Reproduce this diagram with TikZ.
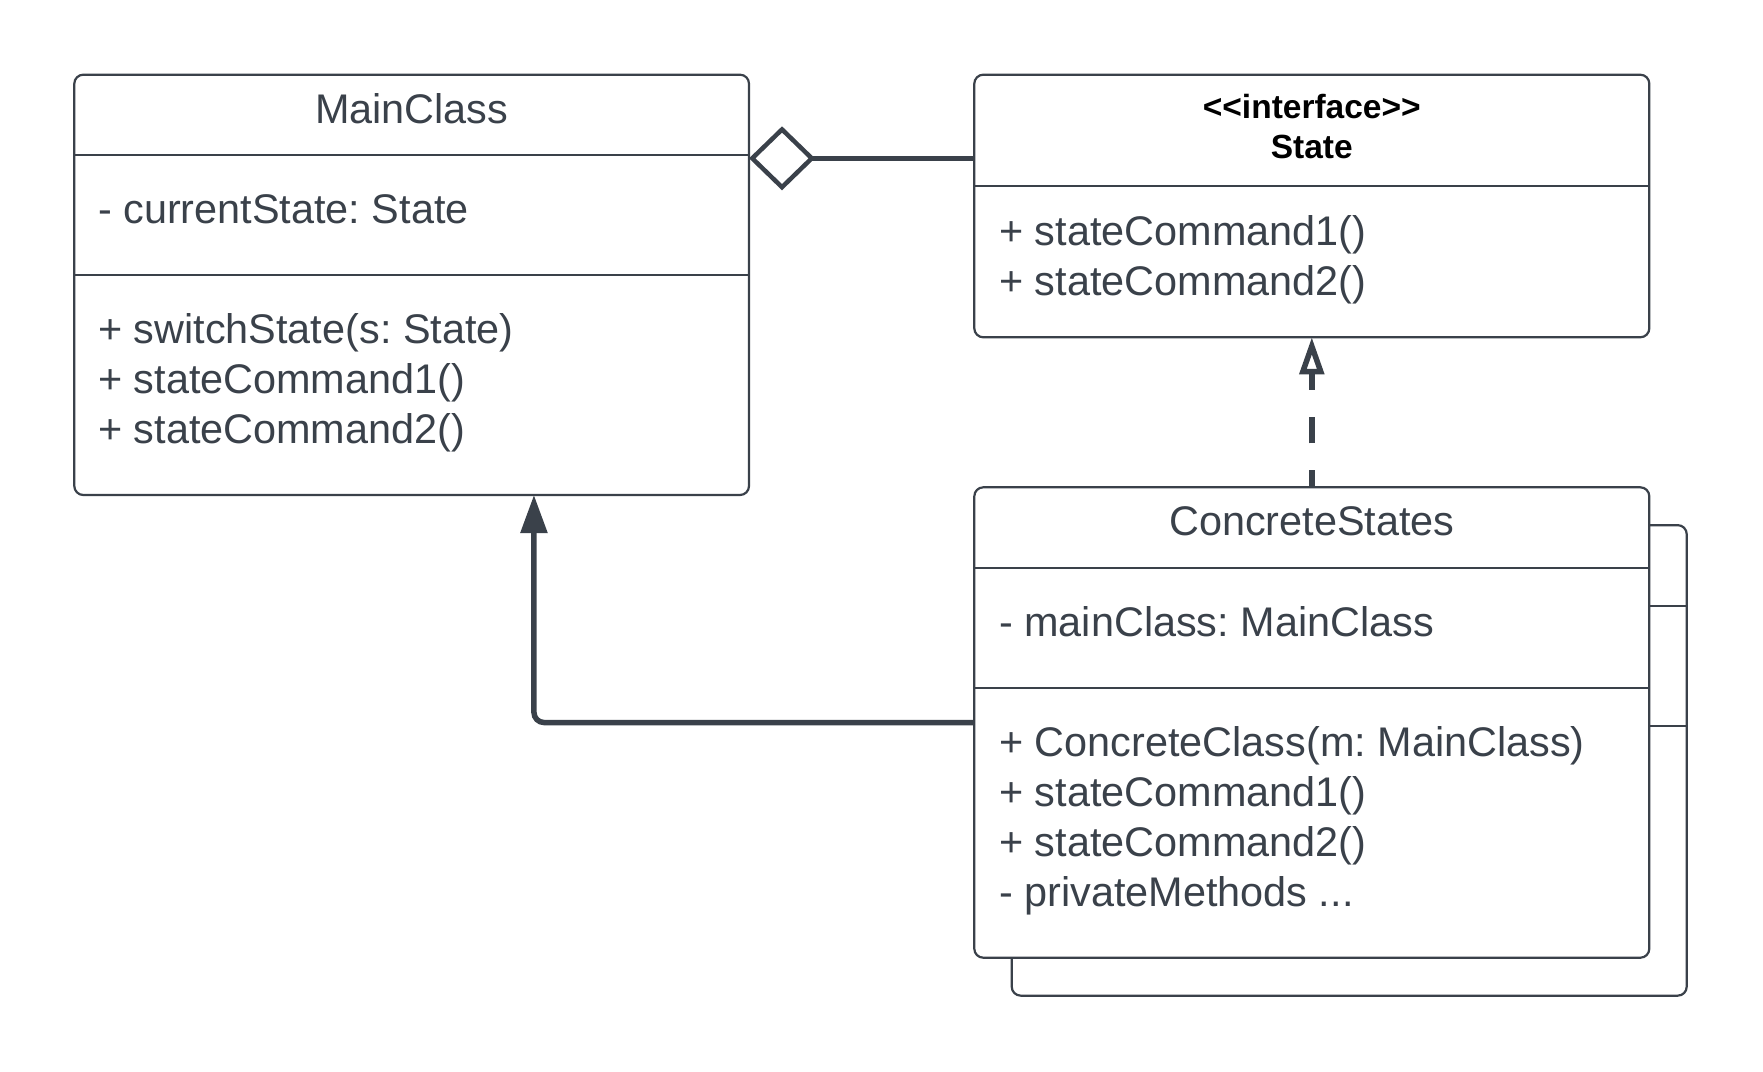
\documentclass[tikz,border=0pt]{standalone}
\usepackage{fontspec}
\setmainfont{Liberation Sans}
\usetikzlibrary{arrows.meta}
\definecolor{lucidgray}{HTML}{3A414A}
\frenchspacing

\begin{document}
\begin{tikzpicture}[x=1pt, y=-1pt,
    classbox/.style={draw=lucidgray, line width=2.2pt, rounded corners=9pt, fill=white, inner sep=0pt, outer sep=0pt},
    divider/.style={draw=lucidgray, line width=2.2pt},
    member/.style={inner sep=0pt, text=lucidgray, font=\fontsize{41.4pt}{50pt}\selectfont},
    stereo/.style={inner sep=0pt, text=black, font=\fontsize{33.5pt}{40pt}\selectfont\bfseries},
    link/.style={draw=lucidgray, line width=5.5pt}]

    \useasboundingbox (0,0) rectangle (1763,1071);

    % Draw the main class
    \node[classbox, minimum width=674.7pt, minimum height=420.3pt] (main) at (411.65, 284.85) {};
    \draw[divider] ([yshift=-80.3pt]main.north west) -- ([yshift=-80.3pt]main.north east);
    \draw[divider] ([yshift=-200.3pt]main.north west) -- ([yshift=-200.3pt]main.north east);
    \node[member, anchor=base] (maintitle) at (411.65, 123.3) {MainClass};
    \node[member, anchor=base west] (mainattr) at (98, 223.3) {- currentState: State};
    \node[member, anchor=base west] (mainop1) at (98, 343.3) {+ switchState(s: State)};
    \node[member, anchor=base west] (mainop2) at (98, 393.3) {+ stateCommand1()};
    \node[member, anchor=base west] (mainop3) at (98, 443.3) {+ stateCommand2()};

    % Draw the state interface
    \node[classbox, minimum width=675pt, minimum height=262.6pt] (state) at (1311.8, 206) {};
    \draw[divider] ([yshift=-111.3pt]state.north west) -- ([yshift=-111.3pt]state.north east);
    \node[stereo, anchor=base] (stateinterface) at (1311.8, 118.7) {{<}{<}interface{>}{>}};
    \node[stereo, anchor=base] (statename) at (1311.8, 158.7) {State};
    \node[member, anchor=base west] (stateop1) at (999, 245) {+ stateCommand1()};
    \node[member, anchor=base west] (stateop2) at (999, 295) {+ stateCommand2()};

    % Draw the stack of concrete states
    \node[classbox, minimum width=675pt, minimum height=470.5pt] (csback) at (1349.2, 760.4) {};
    \draw[divider] ([yshift=-80.5pt]csback.north west) -- ([yshift=-80.5pt]csback.north east);
    \draw[divider] ([yshift=-200.5pt]csback.north west) -- ([yshift=-200.5pt]csback.north east);
    \node[classbox, minimum width=675pt, minimum height=470.4pt] (cs) at (1311.8, 722.5) {};
    \draw[divider] ([yshift=-81pt]cs.north west) -- ([yshift=-81pt]cs.north east);
    \draw[divider] ([yshift=-201pt]cs.north west) -- ([yshift=-201pt]cs.north east);
    \node[member, anchor=base] (cstitle) at (1311.8, 535.6) {ConcreteStates};
    \node[member, anchor=base west] (csattr) at (999, 636.6) {- mainClass: MainClass};
    \node[member, anchor=base west] (csop1) at (999, 756.3) {+ ConcreteClass(m: MainClass)};
    \node[member, anchor=base west] (csop2) at (999, 806.3) {+ stateCommand1()};
    \node[member, anchor=base west] (csop3) at (999, 856.3) {+ stateCommand2()};
    \node[member, anchor=base west] (csop4) at (999, 906.3) {- privateMethods ...};

    % Draw connections
    \coordinate (aggy) at (0, 158.3);
    \draw[link, line width=4.5pt, -{Diamond[open, length=66pt, width=64pt]}] (state.west |- aggy) -- (main.east |- aggy);
    \draw[link, dash pattern=on 26.7pt off 26.7pt, dash phase=9.4pt, -{Triangle[open, length=37pt, width=24pt]}] (cs.north) -- (state.south);
    \draw[link, rounded corners=10pt, -{Triangle[length=38pt, width=26pt]}] (cs.west) -| ([xshift=122.3pt]main.south);

\end{tikzpicture}
\end{document}
